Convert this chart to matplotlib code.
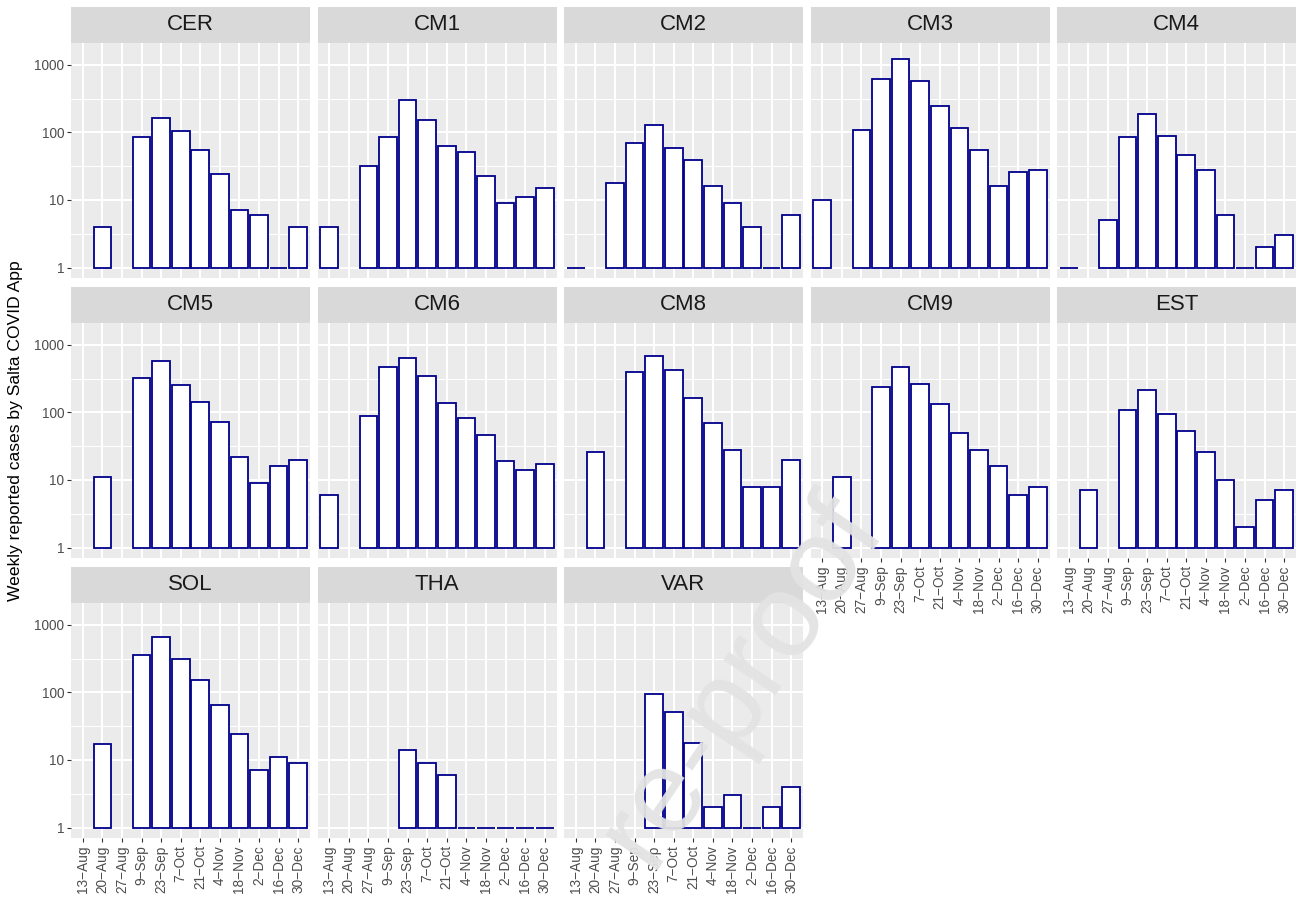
import matplotlib
matplotlib.use("Agg")
import matplotlib.pyplot as plt
from matplotlib.ticker import FixedLocator, NullFormatter

plt.rcParams["font.family"] = ["Liberation Sans", "DejaVu Sans"]

# Week labels shown on the x axis
weeks = ["13−Aug", "20−Aug", "27−Aug", "9−Sep", "23−Sep", "7−Oct", "21−Oct",
         "4−Nov", "18−Nov", "2−Dec", "16−Dec", "30−Dec"]

# Facet names, in display order
areas = ["CER", "CM1", "CM2", "CM3", "CM4", "CM5", "CM6", "CM8", "CM9", "EST",
         "SOL", "THA", "VAR"]

# Weekly reported cases per area (None = no report that week)
cer = [None, 4, None, 85, 165, 103, 54, 24, 7, 6, 1, 4]
cm1 = [4, None, 32, 85, 304, 154, 62, 51, 23, 9, 11, 15]
cm2 = [1, None, 18, 70, 127, 59, 39, 16, 9, 4, 1, 6]
cm3 = [10, None, 110, 607, 1227, 567, 242, 117, 55, 16, 26, 28]
cm4 = [1, None, 5, 85, 185, 89, 47, 28, 6, 1, 2, 3]
cm5 = [None, 11, None, 318, 580, 254, 142, 73, 22, 9, 16, 20]
cm6 = [6, None, 87, 462, 642, 344, 139, 82, 47, 19, 14, 17]
cm8 = [None, 26, None, 394, 672, 422, 165, 69, 28, 8, 8, 20]
cm9 = [None, 11, None, 240, 462, 265, 131, 49, 28, 16, 6, 8]
est = [None, 7, None, 108, 211, 96, 53, 26, 10, 2, 5, 7]
sol = [None, 17, None, 352, 657, 311, 150, 66, 24, 7, 11, 9]
tha = [None, None, None, None, 14, 9, 6, 1, 1, 1, 1, 1]
var = [None, None, None, None, 94, 52, 18, 2, 3, 1, 2, 4]

series = [cer, cm1, cm2, cm3, cm4, cm5, cm6, cm8, cm9, est, sol, tha, var]

y_breaks = [1, 10, 100, 1000]
y_labels = ["1", "10", "100", "1000"]

W, H = 1310, 899
fig = plt.figure(figsize=(W / 100, H / 100), dpi=100)
fig.patch.set_facecolor("white")


def px_box(left, top, width, height):
    return [left / W, 1 - (top + height) / H, width / W, height / H]


NCOL = 5
n = len(areas)
last_row = {}
for i in range(n):
    r, c = divmod(i, NCOL)
    last_row[c] = r

PANEL_W, PANEL_H = 239, 235.6
for i, (name, vals) in enumerate(zip(areas, series)):
    r, c = divmod(i, NCOL)
    left = 71 + 246.5 * c
    top = 42.7 + 280 * r

    ax = fig.add_axes(px_box(left, top, PANEL_W, PANEL_H))
    ax.set_facecolor("#EBEBEB")
    for s in ax.spines.values():
        s.set_visible(False)

    ax.set_yscale("log")
    ax.set_ylim(10 ** -0.1576, 10 ** 3.325)
    ax.set_xlim(0.4, 12.6)

    xs = [k + 1 for k, v in enumerate(vals) if v is not None]
    hs = [v - 1 for v in vals if v is not None]
    ax.bar(xs, hs, bottom=1, width=0.9, color="white", edgecolor="#00008B",
           linewidth=1.3, joinstyle="miter", zorder=3)

    ax.yaxis.set_major_locator(FixedLocator(y_breaks))
    ax.yaxis.set_minor_locator(FixedLocator([10 ** 0.5, 10 ** 1.5, 10 ** 2.5]))
    ax.yaxis.set_minor_formatter(NullFormatter())
    ax.set_xticks(range(1, len(weeks) + 1))

    ax.set_axisbelow(True)
    ax.grid(True, which="major", color="white", linewidth=1.5)
    ax.grid(True, which="minor", axis="y", color="white", linewidth=0.75)
    ax.tick_params(which="minor", length=0)
    ax.tick_params(which="major", color="#333333", width=0.8, length=3,
                   labelsize=9.8, labelcolor="#4D4D4D")

    if c == 0:
        ax.set_yticklabels(y_labels)
        ax.tick_params(axis="y", pad=1.8)
    else:
        ax.tick_params(axis="y", left=False, labelleft=False)

    if r == last_row[c]:
        ax.set_xticklabels(weeks, rotation=90)
        ax.tick_params(axis="x", pad=2)
    else:
        ax.tick_params(axis="x", bottom=False, labelbottom=False)

    # facet strip
    sx = fig.add_axes(px_box(left, 6.7 + 280 * r, PANEL_W, 36))
    sx.set_facecolor("#D9D9D9")
    sx.set_xticks([])
    sx.set_yticks([])
    for s in sx.spines.values():
        s.set_visible(False)
    sx.text(0.5, 0.5, name, ha="center", va="center", fontsize=16,
            color="#1A1A1A", transform=sx.transAxes)

fig.text(16 / W, 1 - 431 / H, "Weekly reported cases by Salta COVID App",
         rotation=90, ha="center", va="center", fontsize=12.6, color="black")

# journal watermark across the lower middle
fig.text(742 / W, 1 - 680 / H, "re-proof", rotation=56,
         rotation_mode="anchor", ha="center", va="center", fontsize=86,
         color="#e3e3e3", alpha=0.95, zorder=10)

fig.savefig("out.png", dpi=100)
